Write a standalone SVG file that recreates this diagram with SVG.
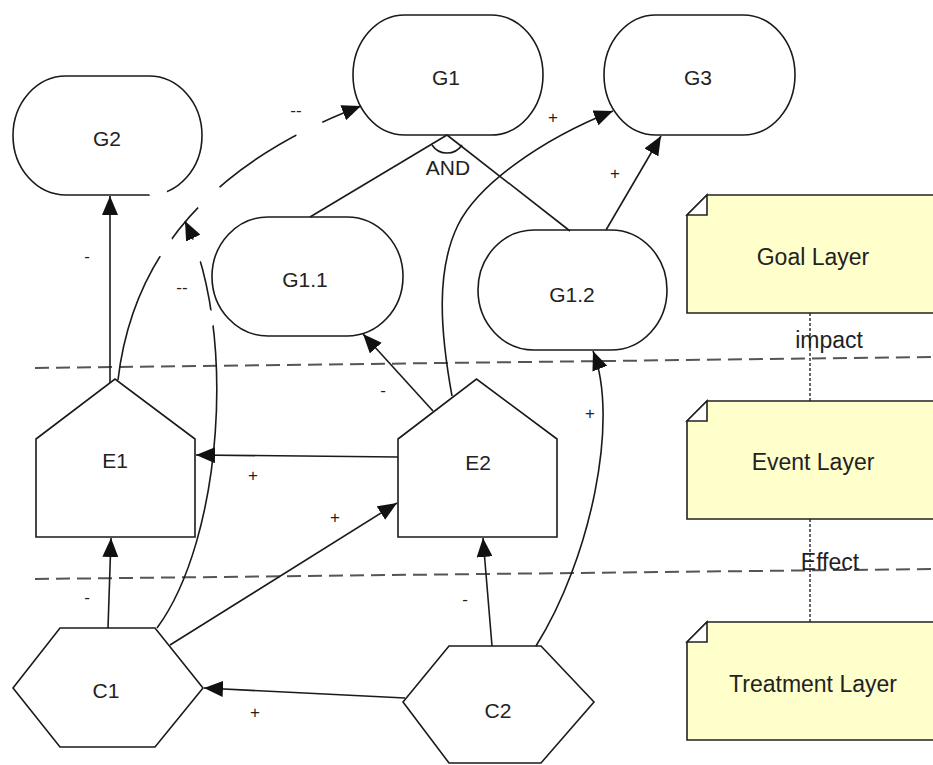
<svg xmlns="http://www.w3.org/2000/svg" width="933" height="765" viewBox="0 0 933 765">
  <style>
    .shape { fill: #ffffff; stroke: #1a1a1a; stroke-width: 1.6; }
    .note { fill: #ffffcc; stroke: #222222; stroke-width: 1.6; }
    .fold { fill: #ffffff; stroke: #222222; stroke-width: 1.6; }
    .label { font-family: "Liberation Sans", Arial, sans-serif; font-size: 21px; fill: #222222; text-anchor: middle; }
    .layer { font-family: "Liberation Sans", Arial, sans-serif; font-size: 23px; fill: #222222; text-anchor: middle; }
    .sign { font-family: "Liberation Sans", Arial, sans-serif; font-size: 17px; fill: #222222; text-anchor: middle; }
    .link { fill: none; stroke: #1a1a1a; stroke-width: 1.6; }
    .arrow { marker-end: url(#head); }
    .boundary { fill: none; stroke: #555555; stroke-width: 2; stroke-dasharray: 14 7; }
    .trace { fill: none; stroke: #333333; stroke-width: 1.5; stroke-dasharray: 3 2; }
  </style>
  <defs>
    <marker id="head" markerUnits="userSpaceOnUse" markerWidth="20" markerHeight="16" viewBox="0 0 20 16" refX="19" refY="8" orient="auto">
      <path d="M0,0 L19,8 L0,16 z" fill="#111111"/>
    </marker>
    <!-- breaks in the long curved links where they pass behind labels -->
    <mask id="gapsE1G1" maskUnits="userSpaceOnUse" x="0" y="0" width="933" height="765">
      <rect x="0" y="0" width="933" height="765" fill="#fff"/>
      <circle cx="163.5" cy="246" r="11" fill="#000"/>
      <circle cx="207.5" cy="196" r="15" fill="#000"/>
      <circle cx="310" cy="130" r="14.5" fill="#000"/>
    </mask>
    <mask id="gapsC1" maskUnits="userSpaceOnUse" x="0" y="0" width="933" height="765">
      <rect x="0" y="0" width="933" height="765" fill="#fff"/>
      <circle cx="207.5" cy="318.5" r="9" fill="#000"/>
      <circle cx="193.5" cy="251.5" r="12" fill="#000"/>
    </mask>
    <mask id="gapG2" maskUnits="userSpaceOnUse" x="0" y="0" width="933" height="765">
      <rect x="0" y="0" width="933" height="765" fill="#fff"/>
      <circle cx="158" cy="192" r="9" fill="#000"/>
    </mask>
  </defs>

  <rect x="0" y="0" width="933" height="765" fill="#ffffff"/>

  <!-- layer boundaries -->
  <g id="boundaries">
    <line class="boundary" x1="35" y1="368" x2="933" y2="357"/>
    <line class="boundary" x1="35" y1="579" x2="933" y2="569"/>
  </g>

  <!-- layer notes and their links -->
  <g id="layer-links">
    <line class="trace" x1="810" y1="313" x2="810" y2="401"/>
    <line class="trace" x1="810" y1="519" x2="810" y2="622"/>
    <text class="layer" x="829" y="348" font-size="22">impact</text>
    <text class="layer" x="830" y="570" font-size="22">Effect</text>
  </g>
  <g id="goal-layer">
    <path class="note" d="M687,215 L707,195 L940,195 L940,313 L687,313 z"/>
    <path class="fold" d="M687,215 L707,195 L707,215 z"/>
    <text class="layer" x="813" y="265">Goal Layer</text>
  </g>
  <g id="event-layer">
    <path class="note" d="M687,421 L707,401 L940,401 L940,519 L687,519 z"/>
    <path class="fold" d="M687,421 L707,401 L707,421 z"/>
    <text class="layer" x="813" y="470">Event Layer</text>
  </g>
  <g id="treatment-layer">
    <path class="note" d="M687,642 L707,622 L940,622 L940,740 L687,740 z"/>
    <path class="fold" d="M687,642 L707,622 L707,642 z"/>
    <text class="layer" x="813" y="692">Treatment Layer</text>
  </g>

  <!-- goals -->
  <g id="G1">
    <rect class="shape" x="353" y="15" width="190" height="120" rx="52" ry="60"/>
    <text class="label" x="446" y="85">G1</text>
  </g>
  <g id="G2">
    <rect class="shape" x="13" y="76" width="189" height="119" rx="53" ry="59.5" mask="url(#gapG2)"/>
    <text class="label" x="107" y="146">G2</text>
  </g>
  <g id="G3">
    <rect class="shape" x="604" y="15" width="191" height="120" rx="52" ry="60"/>
    <text class="label" x="698" y="85">G3</text>
  </g>
  <g id="G1.1">
    <rect class="shape" x="212" y="217" width="191" height="119" rx="56" ry="59.5"/>
    <text class="label" x="305" y="287">G1.1</text>
  </g>
  <g id="G1.2">
    <rect class="shape" x="478" y="230" width="189" height="120" rx="56" ry="60"/>
    <text class="label" x="572" y="302">G1.2</text>
  </g>

  <!-- events -->
  <g id="E1">
    <path class="shape" d="M36,439 L115,379 L195,439 L195,537 L36,537 z"/>
    <text class="label" x="115" y="468">E1</text>
  </g>
  <g id="E2">
    <path class="shape" d="M398,439 L476.5,379 L557,439 L557,537 L398,537 z"/>
    <text class="label" x="478" y="470">E2</text>
  </g>

  <!-- treatments -->
  <g id="C1">
    <path class="shape" d="M13,688 L60,628 L155,628 L203,688 L155,747 L60,747 z"/>
    <text class="label" x="106" y="698">C1</text>
  </g>
  <g id="C2">
    <path class="shape" d="M403,702 L449,646 L541,646 L594,702 L541,763 L449,763 z"/>
    <text class="label" x="498" y="718">C2</text>
  </g>

  <!-- connectors -->
  <g id="connectors">
    <!-- AND decomposition of G1 -->
    <line class="link" x1="447" y1="135" x2="310" y2="217"/>
    <line class="link" x1="447" y1="135" x2="570" y2="231"/>
    <path class="link" d="M432,145 A18,18 0 0 0 462,145"/>
    <text class="label" x="448" y="175">AND</text>

    <line class="link arrow" x1="110" y1="383" x2="110" y2="196"/>
    <text class="sign" x="87" y="262">-</text>

    <path class="link arrow" d="M118,380 Q140,190 361,106" mask="url(#gapsE1G1)"/>
    <text class="sign" x="296" y="116">--</text>

    <path class="link arrow" d="M157,628 C222,540 238,330 185,221" mask="url(#gapsC1)"/>
    <text class="sign" x="182" y="293">--</text>

    <line class="link arrow" x1="108" y1="628" x2="111" y2="538"/>
    <text class="sign" x="87" y="603">-</text>

    <line class="link arrow" x1="398" y1="457" x2="196" y2="455"/>
    <text class="sign" x="253" y="481">+</text>

    <line class="link arrow" x1="170" y1="645" x2="397" y2="503"/>
    <text class="sign" x="335" y="523">+</text>

    <line class="link arrow" x1="405" y1="698" x2="204" y2="688"/>
    <text class="sign" x="255" y="718">+</text>

    <line class="link arrow" x1="492" y1="646" x2="483" y2="538"/>
    <text class="sign" x="465" y="605">-</text>

    <line class="link arrow" x1="433" y1="411" x2="363" y2="334"/>
    <text class="sign" x="383" y="396">-</text>

    <path class="link arrow" d="M452,396 C440,330 436,270 458,225 C478,185 540,140 613,111"/>
    <text class="sign" x="553" y="123">+</text>

    <line class="link arrow" x1="606" y1="230" x2="661" y2="136"/>
    <text class="sign" x="615" y="179">+</text>

    <path class="link arrow" d="M536,646 C590,560 620,420 593,351"/>
    <text class="sign" x="590" y="419">+</text>
  </g>
</svg>
